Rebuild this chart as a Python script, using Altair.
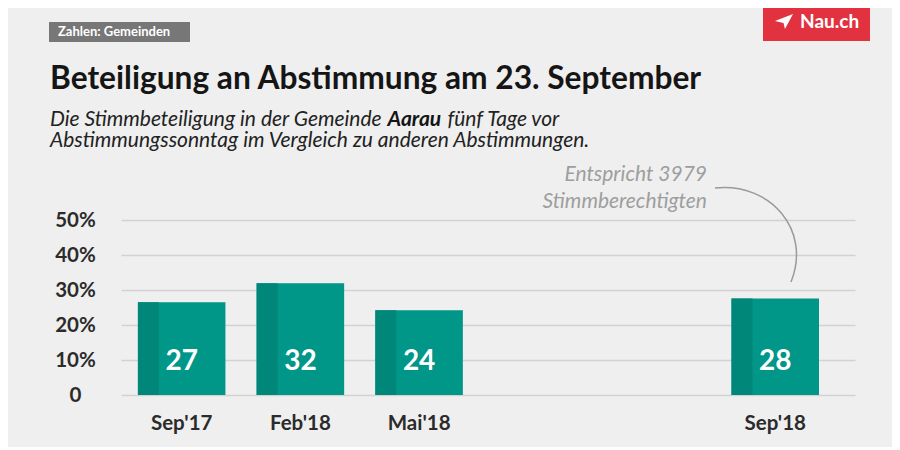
import altair as alt
import pandas as pd

# ---- data ----
categories = ["Sep'17", "Feb'18", "Mai'18", "Sep'18"]
turnout = [26.5, 31.9, 24.2, 27.6]          # Stimmbeteiligung in %
value_labels = ["27", "32", "24", "28"]
slot_domain = ["Sep'17", "Feb'18", "Mai'18", " ", "  ", "Sep'18"]
y_ticks = [0, 10, 20, 30, 40, 50]

title_text = "Beteiligung an Abstimmung am 23. September"
sub1a = "Die Stimmbeteiligung in der Gemeinde"
sub1b = "Aarau"
sub1c = "fünf Tage vor"
sub2 = "Abstimmungssonntag im Vergleich zu anderen Abstimmungen."
tag_text = "Zahlen: Gemeinden"
logo_text = "Nau.ch"
note1 = "Entspricht 3979"
note2 = "Stimmberechtigten"

df = pd.DataFrame({"cat": categories, "value": turnout, "label": value_labels})
one = alt.Data(values=[{}])

FONT = "Lato"
W, H = 734, 175
TEAL = "#009688"
TEAL_DARK = "#00877a"

xscale = alt.Scale(domain=slot_domain, paddingInner=0.263, paddingOuter=0.223, align=0.32)
yscale = alt.Scale(domain=[0, 50], nice=False)

x_enc = alt.X("cat:N", scale=xscale, sort=slot_domain, title=None,
              axis=alt.Axis(domain=False, ticks=False, tickSize=0, labelAngle=0,
                            labelFont=FONT, labelFontSize=20.5, labelFontWeight="bold",
                            labelColor="#2b2b2b", labelPadding=28, labelBaseline="middle",
                            labelOverlap=False, grid=False))
y_enc = alt.Y("value:Q", scale=yscale, title=None,
              axis=alt.Axis(values=y_ticks, tickCount=len(y_ticks) + 2,
                            domain=False, ticks=False, tickSize=0,
                            labelExpr="datum.value == 0 ? '0' : datum.value + '%'",
                            labelFont=FONT, labelFontSize=20.5, labelFontWeight="bold",
                            labelColor="#2b2b2b", labelAlign="center", labelPadding=46,
                            labelBaseline="middle", labelOverlap=False, labelFlush=False,
                            grid=True, gridColor="#d2d2d2", gridWidth=1.5))

base = alt.Chart(df)
bars = base.mark_bar(color=TEAL).encode(x=x_enc, y=y_enc)
stripe = base.mark_bar(color=TEAL_DARK, width=21, xOffset=-33.3).encode(
    x=alt.X("cat:N", scale=xscale, sort=slot_domain), y=alt.Y("value:Q", scale=yscale))
vals = base.mark_text(font=FONT, fontSize=28, fontWeight="bold", color="white",
                      baseline="middle", align="center").encode(
    x=alt.X("cat:N", scale=xscale, sort=slot_domain), y=alt.datum(9.5), text="label:N")


def txt(text, x, y, size, color, weight="normal", style="normal", align="left", baseline="alphabetic"):
    return alt.Chart(one).mark_text(text=text, font=FONT, fontSize=size, color=color,
                                    fontWeight=weight, fontStyle=style, align=align,
                                    baseline=baseline).encode(x=alt.value(x), y=alt.value(y))


def box(x1, x2, y1, y2, color):
    return alt.Chart(one).mark_rect(color=color).encode(
        x=alt.value(x1), x2=alt.value(x2), y=alt.value(y1), y2=alt.value(y2))


tag_bg = box(-72, 69, -198, -178, "#777777")
tag = txt(tag_text, -63, -188, 13, "white", weight="bold", baseline="middle")
logo_bg = box(642, 749, -212, -179, "#e2323f")
logo = txt(logo_text, 679, -198, 19, "white", weight="bold", baseline="middle")
plane = alt.Chart(one).mark_point(
    shape="M -0.95 -0.05 L 0.95 -0.79 L 0.1 0.79 L -0.05 0.15 Z",
    size=361, filled=True, fill="white", stroke=None, opacity=1).encode(
    x=alt.value(663), y=alt.value(-198.5))

title = txt(title_text, -71, -131, 31.7, "#151515", weight="bold")
s1a = txt(sub1a, -71, -94, 21, "#222222", style="italic")
s1b = txt(sub1b, 266.5, -94, 21, "#151515", weight="bold", style="italic")
s1c = txt(sub1c, 326.5, -94, 21, "#222222", style="italic")
s2 = txt(sub2, -71, -73.5, 21, "#222222", style="italic")

n1 = txt(note1, 586, -39, 21, "#9e9e9e", style="italic", align="right")
n2 = txt(note2, 586, -11.7, 21, "#9e9e9e", style="italic", align="right")
curve = alt.Chart(one).mark_point(
    shape="M -0.8 -0.96 C 0.3 -1.08 1.14 -0.12 0.72 0.92",
    size=10000, filled=False, stroke="#9a9a9a", strokeWidth=1.5, opacity=1).encode(
    x=alt.value(634), y=alt.value(16))

chart = alt.layer(
    bars, stripe, vals,
    tag_bg, tag, logo_bg, plane, logo,
    title, s1a, s1b, s1c, s2,
    n1, n2, curve,
).properties(
    width=W, height=H,
    padding={"left": 113, "top": 212, "right": 37, "bottom": 52},
    autosize=alt.AutoSizeParams(type="none"),
).configure(
    background="#efefef",
).configure_view(stroke=None)

chart.save("out.html", embed_options={"renderer": "svg", "actions": False})
